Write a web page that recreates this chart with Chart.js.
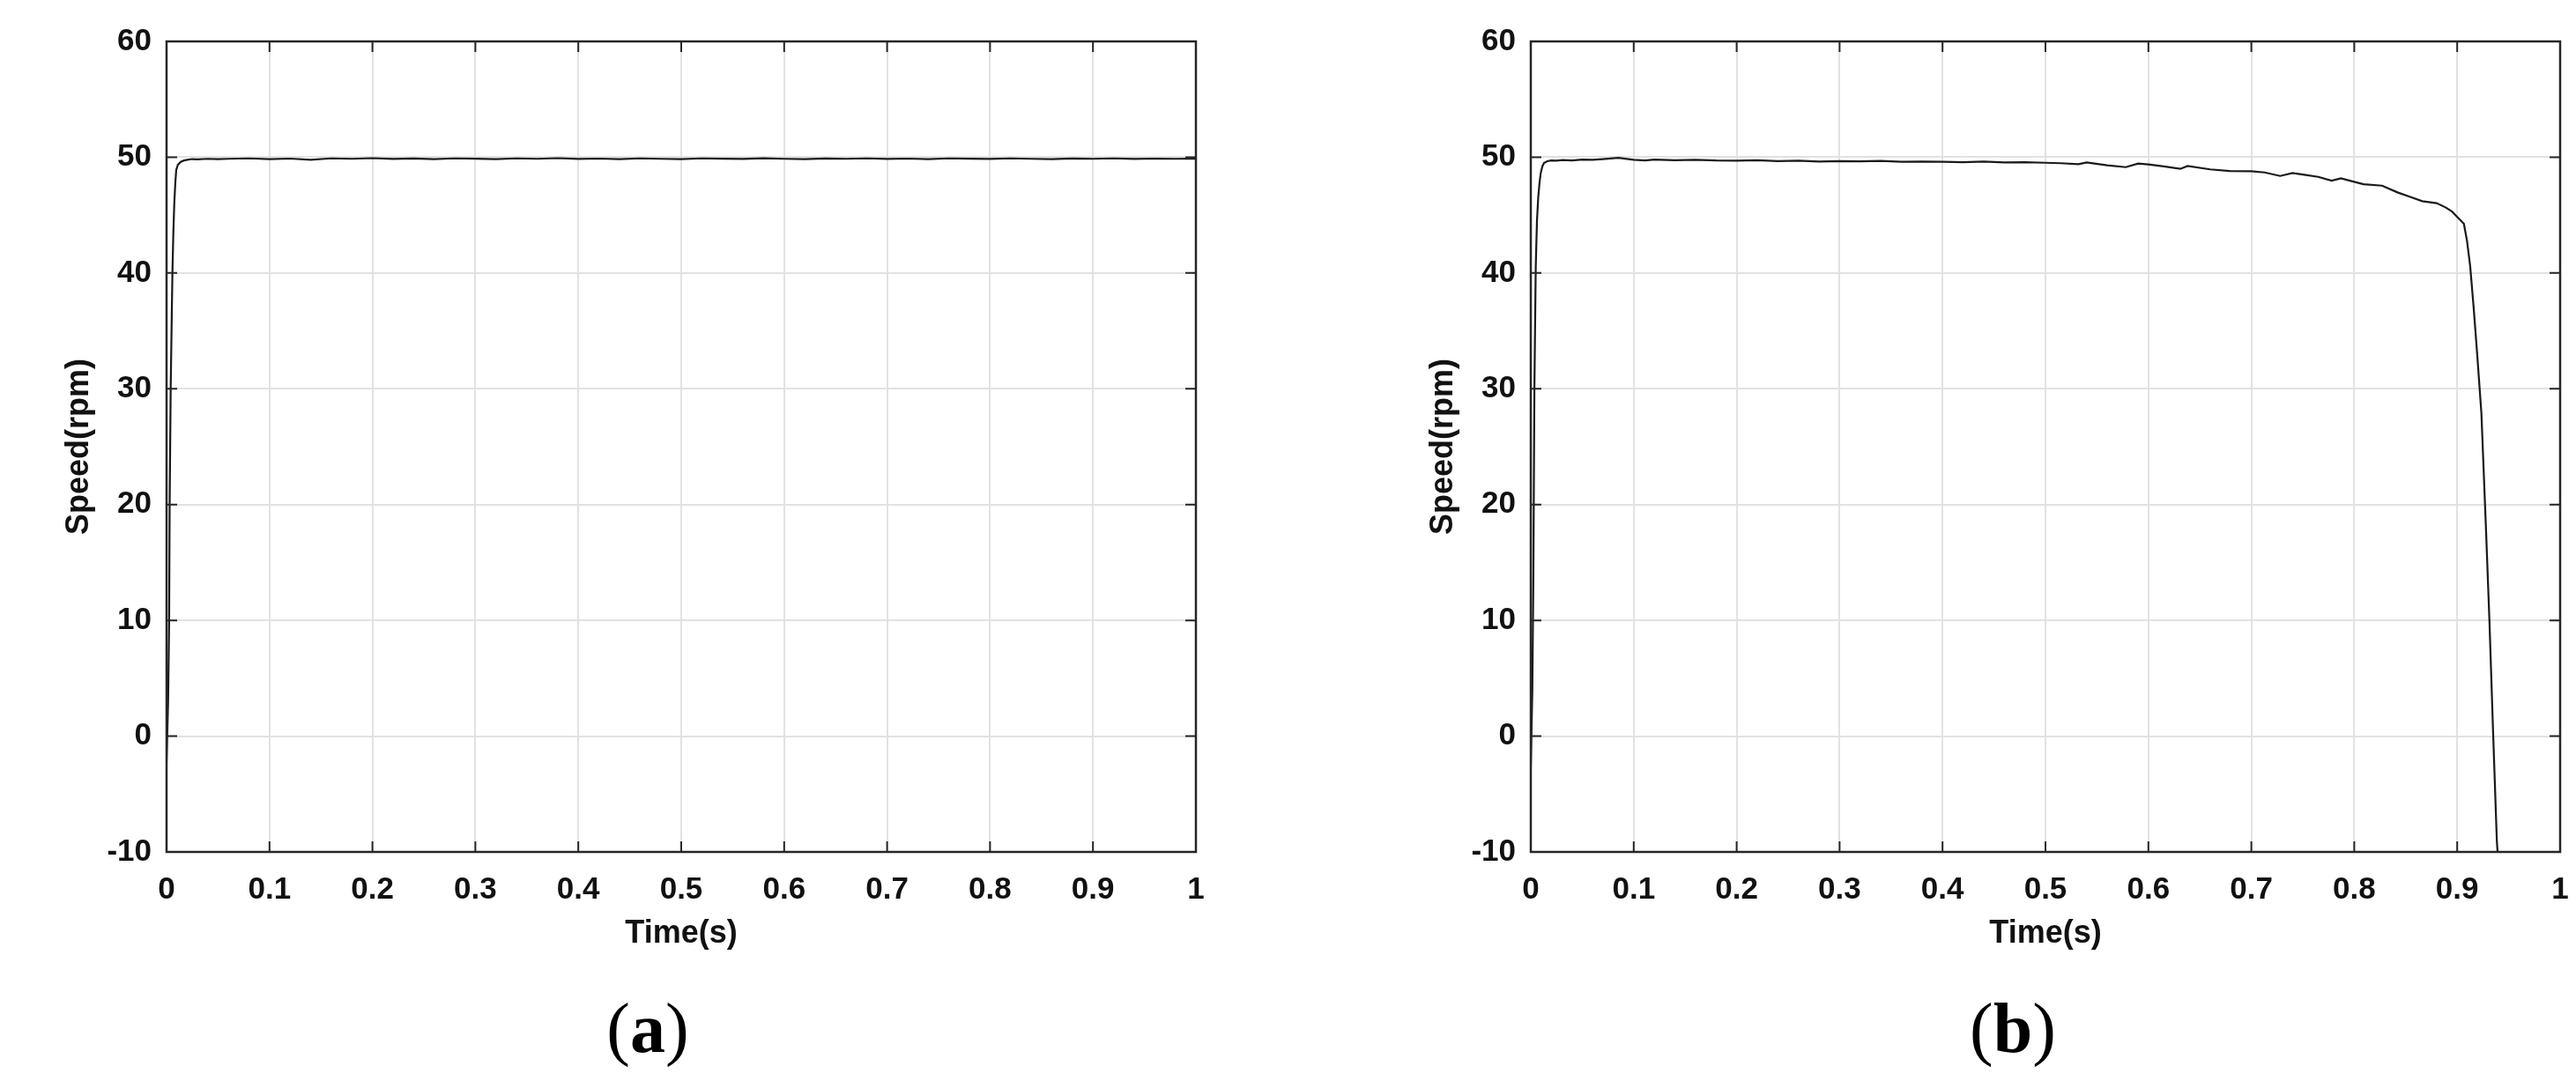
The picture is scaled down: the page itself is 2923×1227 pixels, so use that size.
<!DOCTYPE html>
<html>
<head>
<meta charset="utf-8">
<script src="https://cdn.jsdelivr.net/npm/chart.js@4.4.1/dist/chart.umd.min.js"></script>
<style>
  body { margin: 0; background: #fff; }
  #wrap { position: relative; width: 2923px; height: 1227px; }
  canvas { position: absolute; top: 0; }
  .sub { position: absolute; top: 1127px; font-family: 'Liberation Serif', 'DejaVu Serif', serif;
         font-size: 80px; line-height: 80px; color: #000; transform: translateX(-50%); }
  .sub b { font-weight: bold; }
</style>
</head>
<body>
<div id="wrap">
  <canvas id="chartA" width="1375" height="1227" style="left:0px"></canvas>
  <canvas id="chartB" width="1375" height="1227" style="left:1548px"></canvas>
  <div class="sub" style="left:735px">(<b>a</b>)</div>
  <div class="sub" style="left:2284px">(<b>b</b>)</div>
</div>
<script>
// (a) speed response, constant load
var timeA = [0, 0.0015, 0.0025, 0.003, 0.004, 0.005, 0.0057, 0.0066, 0.0075, 0.0085, 0.0094, 0.011, 0.0137, 0.017, 0.02, 0.025, 0.03, 0.04, 0.05,
  0.06, 0.08, 0.10, 0.12, 0.14, 0.16, 0.18, 0.20, 0.22, 0.24, 0.26, 0.28, 0.30, 0.32, 0.34, 0.36, 0.38, 0.40, 0.42, 0.44, 0.46, 0.48,
  0.50, 0.52, 0.54, 0.56, 0.58, 0.60, 0.62, 0.64, 0.66, 0.68, 0.70, 0.72, 0.74, 0.76, 0.78, 0.80, 0.82, 0.84, 0.86, 0.88, 0.90,
  0.92, 0.94, 0.96, 0.98, 1.00];
var speedA = [-2.2, 3, 10, 20, 30, 36, 40, 43.5, 46, 47.8, 48.9, 49.35, 49.6, 49.72, 49.78, 49.84, 49.82, 49.86, 49.84,
  49.86, 49.9, 49.84, 49.88, 49.78, 49.9, 49.86, 49.92, 49.85, 49.89, 49.83, 49.9, 49.87, 49.84, 49.9, 49.86, 49.92, 49.85, 49.88, 49.84, 49.9, 49.86,
  49.83, 49.9, 49.87, 49.85, 49.91, 49.86, 49.84, 49.89, 49.86, 49.9, 49.85, 49.88, 49.84, 49.9, 49.87, 49.85, 49.9, 49.86, 49.83, 49.89, 49.86,
  49.9, 49.85, 49.88, 49.86, 49.87];

// (b) speed response, increasing load until stall
var timeB = [0, 0.0015, 0.0025, 0.0035, 0.0048, 0.006, 0.0072, 0.0085, 0.0096, 0.0112, 0.0128, 0.016, 0.02, 0.025, 0.031, 0.04, 0.05, 0.06, 0.07, 0.085,
  0.1, 0.111, 0.12, 0.14, 0.16, 0.18, 0.2, 0.22, 0.24, 0.26, 0.28, 0.3, 0.32, 0.34, 0.36, 0.38, 0.4, 0.42, 0.44, 0.46, 0.48,
  0.5, 0.515, 0.532, 0.54, 0.56, 0.578, 0.59, 0.6, 0.615, 0.631, 0.638, 0.66, 0.679, 0.7, 0.713, 0.728, 0.74, 0.753, 0.765, 0.778, 0.787,
  0.8, 0.809, 0.827, 0.842, 0.855, 0.866, 0.88, 0.889, 0.895, 0.9, 0.9065, 0.9095, 0.9126, 0.916, 0.9194, 0.9235, 0.928, 0.9313, 0.935, 0.9385, 0.942];
var speedB = [-2.6, 4, 14, 30, 40.5, 44.5, 46.5, 47.8, 48.6, 49.2, 49.5, 49.65, 49.72, 49.7, 49.75, 49.72, 49.8, 49.78, 49.84, 49.95,
  49.78, 49.72, 49.8, 49.74, 49.78, 49.72, 49.7, 49.74, 49.66, 49.7, 49.62, 49.66, 49.64, 49.68, 49.6, 49.63, 49.6, 49.57, 49.62, 49.55, 49.57,
  49.52, 49.48, 49.4, 49.55, 49.3, 49.14, 49.45, 49.37, 49.2, 48.99, 49.24, 48.95, 48.81, 48.78, 48.68, 48.38, 48.63, 48.46, 48.3, 47.97, 48.18,
  47.87, 47.67, 47.54, 46.96, 46.55, 46.2, 46.03, 45.65, 45.3, 44.84, 44.25, 42.8, 40.58, 37, 33.0, 27.9, 17.8, 10, 0, -9, -14];

var xTickLabels = ['0', '0.1', '0.2', '0.3', '0.4', '0.5', '0.6', '0.7', '0.8', '0.9', '1'];
var yTickLabels = ['-10', '0', '10', '20', '30', '40', '50', '60'];
var xTitle = 'Time(s)';
var yTitle = 'Speed(rpm)';

var axisFont = "'Liberation Sans', Arial, sans-serif";

// MATLAB-like box with inward tick marks
var boxTicks = {
  id: 'boxTicks',
  afterDraw: function(chart) {
    var ctx = chart.ctx, a = chart.chartArea, x = chart.scales.x, y = chart.scales.y;
    ctx.save();
    ctx.strokeStyle = '#262626';
    ctx.lineWidth = 2;
    ctx.beginPath();
    x.ticks.forEach(function(t) {
      var px = x.getPixelForValue(t.value);
      ctx.moveTo(px, a.bottom); ctx.lineTo(px, a.bottom - 12);
      ctx.moveTo(px, a.top); ctx.lineTo(px, a.top + 12);
    });
    y.ticks.forEach(function(t) {
      var py = y.getPixelForValue(t.value);
      ctx.moveTo(a.left, py); ctx.lineTo(a.left + 12, py);
      ctx.moveTo(a.right, py); ctx.lineTo(a.right - 12, py);
    });
    ctx.stroke();
    ctx.lineWidth = 2.5;
    ctx.strokeRect(a.left, a.top, a.right - a.left, a.bottom - a.top);
    ctx.restore();
  }
};

function makeChart(id, times, speeds) {
  var points = [];
  for (var i in times) {
    points.push({x: times[i], y: speeds[i]});
  }
  var tickFont = {family: axisFont, size: 35, weight: 'bold', lineHeight: 1.2};
  var titleFont = {family: axisFont, size: 36, weight: 'bold', lineHeight: 1.2};
  return new Chart(document.getElementById(id), {
    type: 'line',
    data: {
      datasets: [{
        data: points,
        borderColor: '#1a1a1a',
        borderWidth: 2.2,
        pointRadius: 0,
        tension: 0,
        fill: false
      }]
    },
    options: {
      responsive: false,
      animation: false,
      layout: {padding: {top: 47, right: 18, left: 0, bottom: 0}},
      plugins: {legend: {display: false}, tooltip: {enabled: false}},
      scales: {
        x: {
          type: 'linear',
          min: 0, max: 1,
          afterFit: function(s) { s.height = 260; s.paddingLeft = 0; s.paddingRight = 0; },
          ticks: {
            stepSize: 0.1,
            padding: 22,
            color: '#111',
            font: tickFont,
            maxRotation: 0,
            autoSkip: false,
            callback: function(v, i) { return xTickLabels[i]; }
          },
          grid: {color: '#e2e2e2', lineWidth: 2, drawTicks: false},
          border: {display: false},
          title: {display: true, text: xTitle, color: '#111', font: titleFont, padding: {top: 0, bottom: 145}}
        },
        y: {
          type: 'linear',
          min: -10, max: 60,
          afterFit: function(s) { s.width = 189; s.paddingTop = 0; s.paddingBottom = 0; },
          ticks: {
            stepSize: 10,
            padding: 17,
            color: '#111',
            font: tickFont,
            callback: function(v, i) { return yTickLabels[i]; }
          },
          grid: {color: '#e2e2e2', lineWidth: 2, drawTicks: false},
          border: {display: false},
          title: {display: true, text: yTitle, color: '#111', font: titleFont, padding: {top: 68, bottom: 0}}
        }
      }
    },
    plugins: [boxTicks]
  });
}

makeChart('chartA', timeA, speedA);
makeChart('chartB', timeB, speedB);
</script>
</body>
</html>
